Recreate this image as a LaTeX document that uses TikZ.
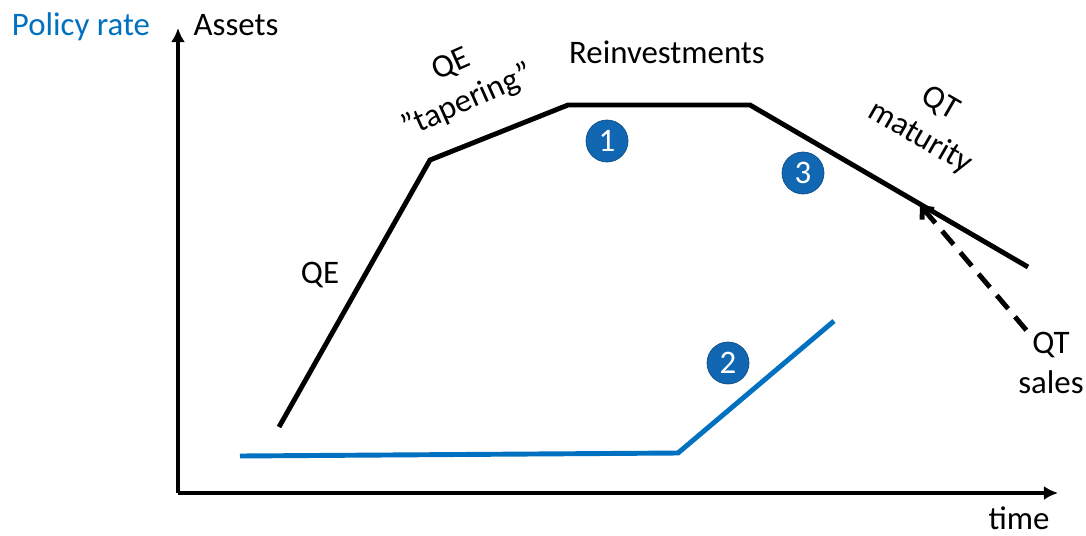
\documentclass[tikz,border=0pt]{standalone}
\usepackage{fontspec}
\setmainfont{Carlito}
\usetikzlibrary{arrows.meta,positioning}
\definecolor{rateblue}{HTML}{0070C0}
\definecolor{markblue}{HTML}{1167B1}
\definecolor{markedge}{HTML}{0B4C86}
\tikzstyle{label} = [font=\fontsize{18.7}{22.7}\selectfont, align=center, inner sep=0pt]
\tikzstyle{marker} = [circle, draw=markedge, fill=markblue, text=white, minimum size=0.84cm, inner sep=0pt, font=\fontsize{18.7}{22.7}\selectfont]
\tikzstyle{axis} = [line width=2.2pt, -{Latex[length=8pt,width=8pt]}]
\tikzstyle{assets} = [line width=2.8pt, black]
\tikzstyle{rate} = [line width=2.8pt, rateblue]

\begin{document}
\begin{tikzpicture}[x=0.02cm, y=-0.02cm]
		\useasboundingbox (0,0) rectangle (1086,535);
		% axes
		\coordinate (origin) at (178,493);
		\coordinate (ytop) at (178,28);
		\coordinate (xend) at (1058,493);
		\draw [axis] (origin) -- (ytop);
		\draw [axis] (origin) -- (xend);
		
		% balance sheet path
		\coordinate (qe0) at (279,427);
		\coordinate (qe1) at (430,160);
		\coordinate (re0) at (568,105);
		\coordinate (re1) at (750,105);
		\coordinate (qt0) at (920,205);
		\coordinate (qt1) at (1028,267);
		\coordinate (sales) at (1033,338);
		\draw [assets] (qe0) -- (qe1) -- (re0) -- (re1) -- (qt1);
		\draw [assets, dash pattern=on 10pt off 6pt, {Straight Barb[length=5pt,width=9pt]}-] (qt0) -- (sales);
		
		% policy rate path
		\coordinate (rate0) at (240,456);
		\coordinate (rate1) at (678,453);
		\coordinate (rate2) at (834,321);
		\draw [rate] (rate0) -- (rate1) -- (rate2);
		
		% labels
		\node [label, text=rateblue] (ratelab) at (81,27) {Policy rate};
		\node [label] (assetlab) at (236,25) {Assets};
		\node [label] (qelab) at (320,275) {QE};
		\node [label, rotate=24] (taperlab) at (460,84) {QE\\”tapering”};
		\node [label] (reinvlab) at (667,52) {Reinvestments};
		\node [label, rotate=-30] (matlab) at (930,121) {QT\\maturity};
		\node [label] (saleslab) at (1051,363) {QT\\sales};
		\node [label] (timelab) at (1019,518) {time};
		
		% numbered markers
		\node [marker] (m1) at (607,141) {1};
		\node [marker] (m2) at (728,363) {2};
		\node [marker] (m3) at (803,173) {3};
		
		
		\end{tikzpicture}
\end{document}
